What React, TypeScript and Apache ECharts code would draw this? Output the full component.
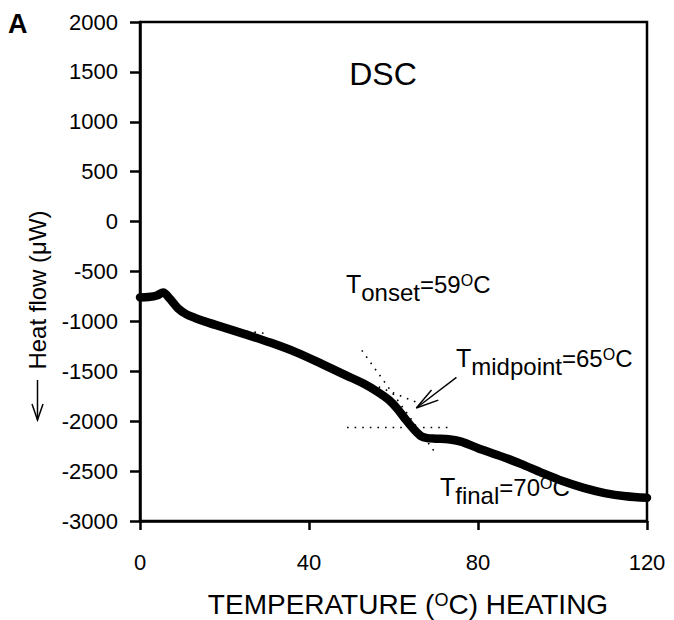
import React, { useEffect, useRef } from "react";
import * as echarts from "echarts";

// ---- data ----
const tempC = [0, 2, 4, 5.5, 7, 9, 11, 13, 16, 19, 25, 31, 37, 43, 49, 53, 56, 59, 61, 63, 65, 66.5, 68, 70, 73, 76, 80, 85, 90, 95, 100, 105, 110, 115, 120];
const heatFlow = [-760, -755, -740, -710, -770, -870, -930, -965, -1010, -1050, -1130, -1215, -1310, -1425, -1545, -1625, -1700, -1790, -1880, -1990, -2090, -2150, -2170, -2175, -2180, -2205, -2270, -2345, -2425, -2515, -2600, -2668, -2720, -2752, -2768];

// dotted construction lines (tangents / baseline) [x, y]
const baselineTangent = [[23.5, -1090], [30.5, -1125]];
const steepTangent = [[52.5, -1290], [70.3, -2340]];
const onsetTangent = [[56.5, -1657], [65.7, -1815]];
const finalLevel = [[49, -2063], [74, -2063]];

// arrow pointing to midpoint
const arrowShaft = [[74.9, -1561], [65.4, -1868]];
const arrowHead = [[69.0, -1688], [65.4, -1868], [70.6, -1788]];

const xTicks = { min: 0, max: 120, interval: 40 };
const yTicks = { min: -3000, max: 2000, interval: 500 };

const FONT = '"Liberation Sans", Arial, Helvetica, sans-serif';

let ctx: CanvasRenderingContext2D | null = null;
function measureW(t: string, s: number, w = "normal") {
  if (!ctx) ctx = document.createElement("canvas").getContext("2d");
  ctx!.font = `${w} ${s}px "Liberation Sans"`;
  return ctx!.measureText(t).width;
}

type Piece = { t: string; s: number; dy?: number };
function pieceEls(x0: number, base: number, pieces: Piece[], centered = false) {
  let x = x0;
  if (centered) {
    const total = pieces.reduce((a, p) => a + measureW(p.t, p.s), 0);
    x = x0 - total / 2;
  }
  return pieces.map((p) => {
    const el = {
      type: "text",
      x,
      y: base + (p.dy || 0) - 0.3465 * p.s,
      style: {
        text: p.t,
        fontSize: p.s,
        fontFamily: FONT,
        fill: "#000",
        align: "left",
        verticalAlign: "middle",
      },
    };
    x += measureW(p.t, p.s);
    return el;
  });
}

const tLabel = (sub: string, val: string): Piece[] => [
  { t: "T", s: 25 },
  { t: sub, s: 24, dy: 8 },
  { t: "=" + val, s: 24 },
  { t: "O", s: 16, dy: -6.5 },
  { t: "C", s: 24 },
];
const onsetLabel = tLabel("onset", "59");
const midLabel = tLabel("midpoint", "65");
const finalLabel = tLabel("final", "70");
const xTitle: Piece[] = [
  { t: "TEMPERATURE (", s: 28 },
  { t: "O", s: 18, dy: -8 },
  { t: "C) HEATING", s: 28 },
];

export default function App() {
  const ref = useRef<HTMLDivElement>(null);
  useEffect(() => {
    if (!ref.current) return;
    const chart = echarts.init(ref.current, null, { renderer: "svg" });
    const dotted = (data: number[][]) => ({
      type: "line",
      data,
      showSymbol: false,
      silent: true,
      z: 2,
      lineStyle: { color: "#000", width: 1.6, type: [1.6, 6] },
    });
    const axisCommon = {
      type: "value",
      splitLine: { show: false },
      axisLine: { show: true, onZero: false, lineStyle: { color: "#000", width: 2.5 } },
      axisTick: { show: true, inside: false, lineStyle: { color: "#000", width: 2.5 } },
    };
    const plain = (v: number) => String(v);
    chart.setOption({
      animation: false,
      backgroundColor: "#fff",
      grid: {
        left: 140,
        right: 27,
        top: 22,
        bottom: 99,
        show: true,
        borderColor: "#000",
        borderWidth: 2.5,
      },
      xAxis: {
        ...axisCommon,
        min: xTicks.min,
        max: xTicks.max,
        interval: xTicks.interval,
        axisTick: { ...axisCommon.axisTick, length: 9 },
        axisLabel: { fontSize: 22, color: "#000", fontFamily: FONT, margin: 30, formatter: plain },
      },
      yAxis: {
        ...axisCommon,
        min: yTicks.min,
        max: yTicks.max,
        interval: yTicks.interval,
        axisTick: { ...axisCommon.axisTick, length: 10 },
        axisLabel: { fontSize: 22, color: "#000", fontFamily: FONT, margin: 22, formatter: plain },
      },
      series: [
        {
          type: "line",
          data: tempC.map((x, i) => [x, heatFlow[i]]),
          smooth: 0.3,
          showSymbol: false,
          z: 3,
          lineStyle: { color: "#000", width: 8.5, cap: "round", join: "round" },
        },
        dotted(baselineTangent),
        dotted(steepTangent),
        dotted(onsetTangent),
        dotted(finalLevel),
        {
          type: "line",
          data: arrowShaft,
          showSymbol: false,
          z: 4,
          lineStyle: { color: "#000", width: 1.4 },
        },
        {
          type: "line",
          data: arrowHead,
          showSymbol: false,
          z: 4,
          lineStyle: { color: "#000", width: 1.4 },
        },
      ],
      graphic: [
        {
          type: "text",
          x: 8,
          y: 33 - 0.3465 * 27,
          style: { text: "A", fontSize: 27, fontWeight: "bold", fontFamily: FONT, fill: "#000", verticalAlign: "middle" },
        },
        {
          type: "text",
          x: 383,
          y: 85 - 0.3465 * 32,
          style: { text: "DSC", fontSize: 32, fontFamily: FONT, fill: "#000", align: "center", verticalAlign: "middle" },
        },
        ...pieceEls(346, 293, onsetLabel),
        ...pieceEls(456, 367, midLabel),
        ...pieceEls(440, 496, finalLabel),
        ...pieceEls(408, 614, xTitle, true),
        {
          type: "text",
          x: 46 - 0.3465 * 24,
          y: 290,
          rotation: Math.PI / 2,
          style: { text: "Heat flow (\u03bcW)", fontSize: 24, fontFamily: FONT, fill: "#000", align: "center", verticalAlign: "middle" },
        },
        {
          type: "line",
          shape: { x1: 37.5, y1: 380, x2: 37.5, y2: 420 },
          style: { stroke: "#000", lineWidth: 1.5 },
        },
        {
          type: "polyline",
          shape: { points: [[32, 404], [37.5, 420], [43, 404]] },
          style: { stroke: "#000", lineWidth: 1.5, fill: null },
        },
      ],
    });
    return () => chart.dispose();
  }, []);
  return (
    <div
      ref={ref}
      style={{ position: "fixed", left: 0, top: 0, width: 674, height: 620, background: "#fff" }}
    />
  );
}
